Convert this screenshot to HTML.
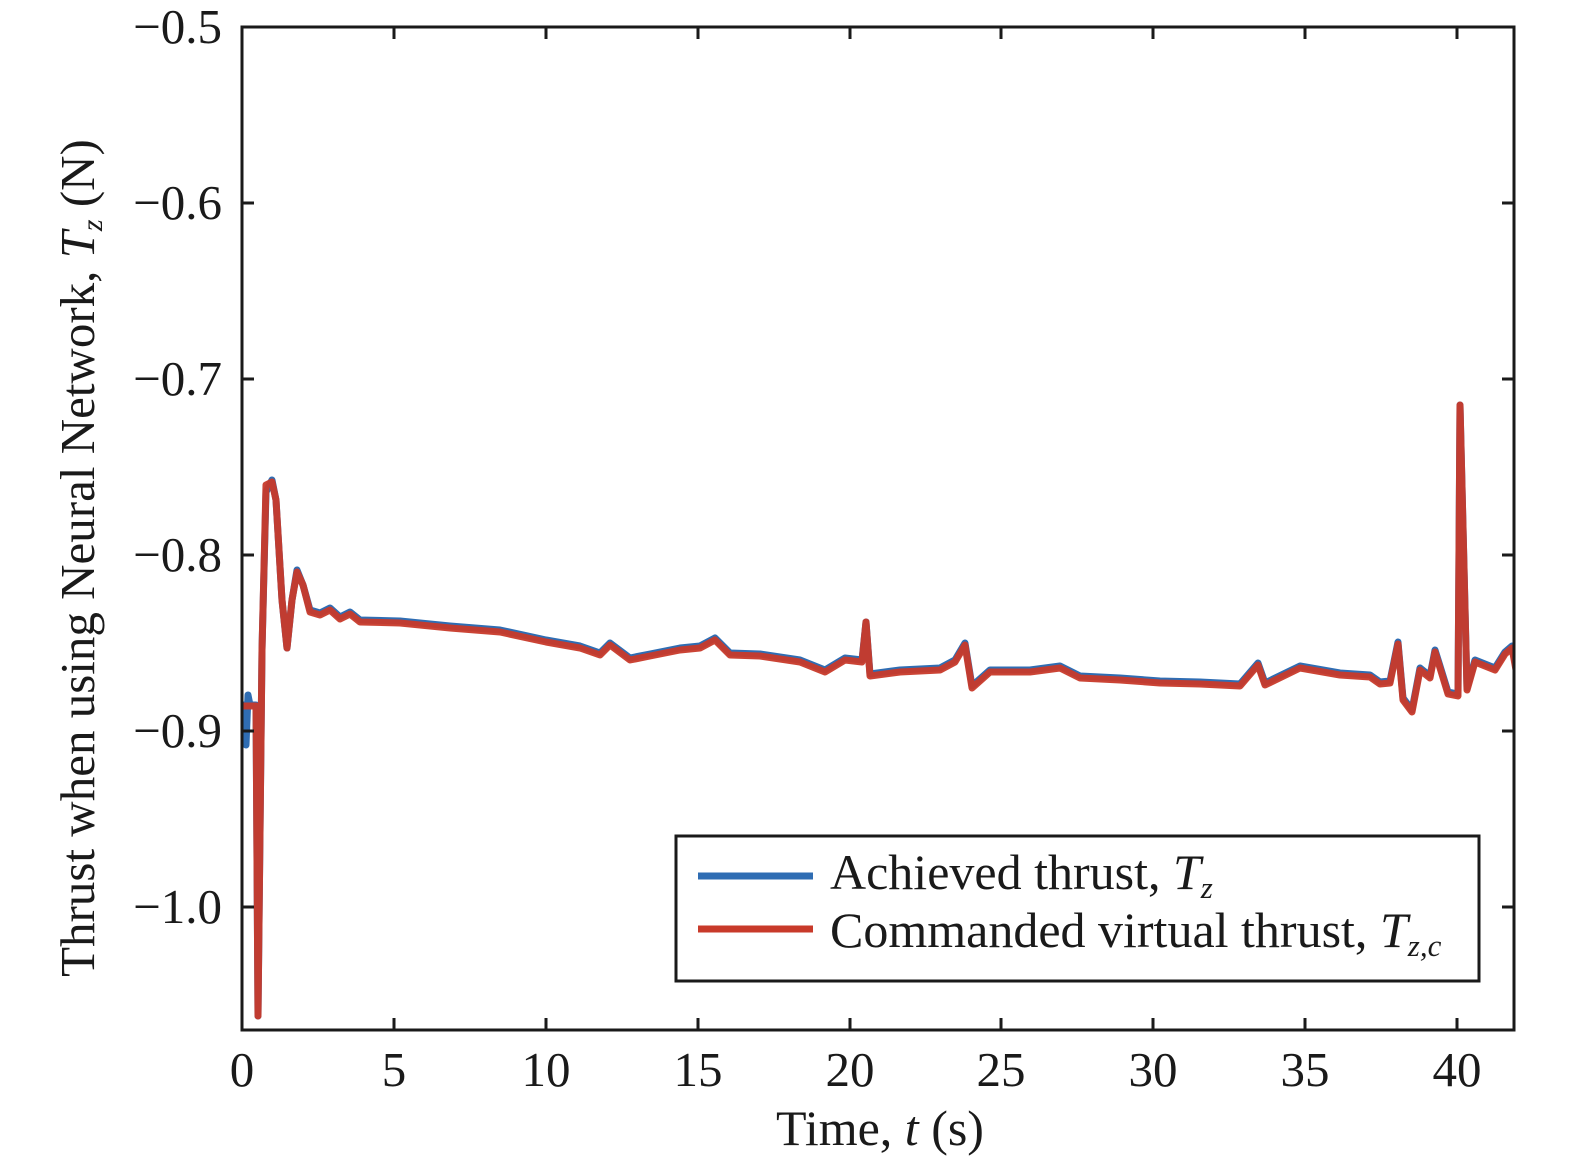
<!DOCTYPE html>
<html><head><style>body{margin:0;background:#fff}svg{display:block}text{font-family:"Liberation Serif",serif;fill:#1a1a1a}</style></head>
<body>
<svg width="1575" height="1165" viewBox="0 0 1575 1165" xmlns="http://www.w3.org/2000/svg">
<defs><clipPath id="c"><rect x="242" y="27" width="1272" height="1003"/></clipPath></defs>
<g clip-path="url(#c)" fill="none" stroke-linejoin="round">
<path stroke="#2f6db3" stroke-width="7" d="M240,705 L244,705 L246,745 L248,695 L250,705 L256,705 L258,1016 L262,650 L266,492 L272,480 L276,500 L282,600 L287,648 L292,600 L297,570 L303,585 L310,610 L320,613 L330,608 L340,617 L350,612 L360,620 L400,621 L450,626 L500,630 L546,640 L580,646 L600,653 L610,643 L630,658 L650,654 L680,648 L700,646 L715,638 L730,653 L760,654 L800,660 L825,670 L845,658 L862,660 L866,622 L870,674 L900,670 L940,668 L955,660 L965,643 L972,686 L990,670 L1030,670 L1060,666 L1080,676 L1120,678 L1160,681 L1200,682 L1240,684 L1258,663 L1265,683 L1300,666 L1340,673 L1370,675 L1380,682 L1390,681 L1398,642 L1403,698 L1412,710 L1420,668 L1430,676 L1435,650 L1440,666 L1448,692 L1458,694 L1460,405 L1467,688 L1475,660 L1485,664 L1495,668 L1505,652 L1512,646 L1516,668"/>
<path stroke="#c83a2a" stroke-width="7" opacity="0.95" d="M240,706 L256,706 L258,1016 L262,650 L266,485 L272,482 L276,500 L282,600 L287,648 L292,600 L297,572 L303,585 L310,612 L320,615 L330,610 L340,619 L350,614 L360,622 L400,623 L450,628 L500,632 L546,642 L580,648 L600,655 L610,645 L630,660 L650,656 L680,650 L700,648 L715,640 L730,655 L760,656 L800,662 L825,672 L845,660 L862,662 L866,622 L870,676 L900,672 L940,670 L955,662 L965,645 L972,688 L990,672 L1030,672 L1060,668 L1080,678 L1120,680 L1160,683 L1200,684 L1240,686 L1258,665 L1265,685 L1300,668 L1340,675 L1370,677 L1380,684 L1390,683 L1398,644 L1403,700 L1412,712 L1420,670 L1430,678 L1435,652 L1440,668 L1448,694 L1458,696 L1460,405 L1467,690 L1475,662 L1485,666 L1495,670 L1505,654 L1512,648 L1516,670"/>
</g>
<rect x="242" y="27" width="1272" height="1003" fill="none" stroke="#1a1a1a" stroke-width="3"/>
<g stroke="#1a1a1a" stroke-width="3">
<path d="M242,203h12M242,379h12M242,555h12M242,731h12M242,907h12M1514,203h-12M1514,379h-12M1514,555h-12M1514,731h-12M1514,907h-12"/>
<path d="M394,1030v-12M546,1030v-12M698,1030v-12M850,1030v-12M1001,1030v-12M1153,1030v-12M1305,1030v-12M1457,1030v-12M394,27v12M546,27v12M698,27v12M850,27v12M1001,27v12M1153,27v12M1305,27v12M1457,27v12"/>
</g>
<g font-size="49" text-anchor="end">
<text x="222" y="43">−0.5</text><text x="222" y="219">−0.6</text><text x="222" y="395">−0.7</text><text x="222" y="571">−0.8</text><text x="222" y="747">−0.9</text><text x="222" y="923">−1.0</text>
</g>
<g font-size="49" text-anchor="middle">
<text x="242" y="1086">0</text><text x="394" y="1086">5</text><text x="546" y="1086">10</text><text x="698" y="1086">15</text><text x="850" y="1086">20</text><text x="1001" y="1086">25</text><text x="1153" y="1086">30</text><text x="1305" y="1086">35</text><text x="1457" y="1086">40</text>
<text x="880" y="1145" font-size="50">Time, <tspan font-style="italic">t</tspan> (s)</text>
<text transform="translate(94,558) rotate(-90)" font-size="49">Thrust when using Neural Network, <tspan font-style="italic">T</tspan><tspan font-style="italic" font-size="30" dy="8">z</tspan><tspan dy="-8"> (N)</tspan></text>
</g>
<rect x="676" y="836" width="803" height="145" fill="#fff" stroke="#1a1a1a" stroke-width="3"/>
<path d="M698,876h115" stroke="#2f6db3" stroke-width="7"/>
<path d="M698,929h115" stroke="#c83a2a" stroke-width="7"/>
<g font-size="50">
<text x="830" y="889">Achieved thrust, <tspan font-style="italic">T</tspan><tspan font-style="italic" font-size="31" dy="9">z</tspan></text>
<text x="830" y="947">Commanded virtual thrust, <tspan font-style="italic">T</tspan><tspan font-style="italic" font-size="31" dy="9">z,c</tspan></text>
</g>
</svg>
</body></html>
